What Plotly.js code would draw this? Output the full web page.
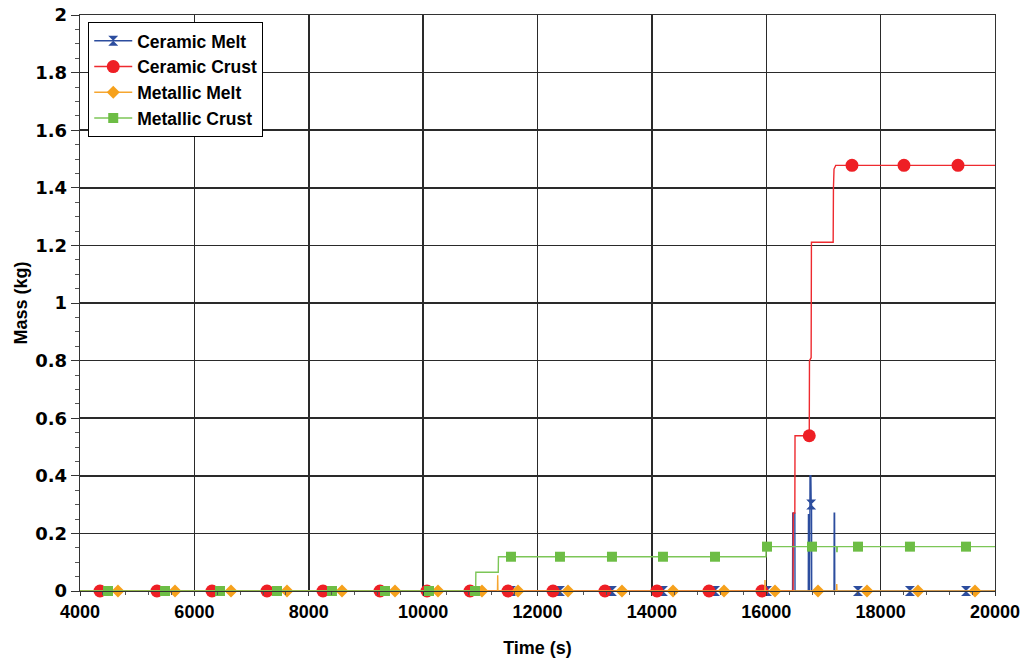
<!DOCTYPE html>
<html>
<head>
<meta charset="utf-8">
<script src="https://cdn.plot.ly/plotly-3.0.1.min.js"></script>
<style>
  html, body { margin: 0; padding: 0; background: #ffffff; }
  #chart { width: 1028px; height: 666px; }
</style>
</head>
<body>
<div id="chart"></div>
<script>
// Debris mass histories (kg) versus time (s)

// Ceramic Melt
const ceramicMeltT = [4000, 16460, 16463, 16500, 16503, 16735, 16738, 16745, 16748, 16760, 16765, 16780, 16786, 16792, 16795, 17185, 17188, 17195, 17198, 20000];
const ceramicMeltM = [0, 0, 0.27, 0.27, 0, 0, 0.265, 0.265, 0, 0, 0.40, 0.40, 0.30, 0.30, 0, 0, 0.27, 0.27, 0, 0];
const ceramicMeltMarkT = [4490, 5486, 6448, 7445, 8406, 9333, 10103, 10907, 11536, 12393, 13302, 14194, 15104, 16013, 16786, 17604, 18513, 19493];
const ceramicMeltMarkM = [0, 0, 0, 0, 0, 0, 0, 0, 0, 0, 0, 0, 0, 0, 0.30, 0, 0, 0];

// Ceramic Crust
const ceramicCrustT = [4000, 16470, 16473, 16500, 16503, 16752, 16756, 16785, 16790, 17170, 17175, 17185, 17215, 20000];
const ceramicCrustM = [0, 0, 0.271, 0.271, 0.539, 0.539, 0.80, 0.81, 1.211, 1.211, 1.40, 1.465, 1.478, 1.478];
const ceramicCrustMarkT = [4350, 5346, 6308, 7270, 8249, 9246, 10068, 10820, 11484, 12271, 13180, 14089, 14999, 15925, 16752, 17499, 18408, 19353];
const ceramicCrustMarkM = [0, 0, 0, 0, 0, 0, 0, 0, 0, 0, 0, 0, 0, 0, 0.539, 1.478, 1.478, 1.478];

// Metallic Melt
const metallicMeltT = [4000, 11300, 11304, 11308, 15975, 15978, 15982, 17230, 17233, 17237, 20000];
const metallicMeltM = [0, 0, 0.055, 0, 0, 0.038, 0, 0, 0.024, 0, 0];
const metallicMeltMarkT = [4664, 5661, 6640, 7620, 8581, 9508, 10260, 11029, 11659, 12533, 13477, 14369, 15261, 16153, 16905, 17762, 18653, 19650];
const metallicMeltMarkM = [0, 0, 0, 0, 0, 0, 0, 0, 0, 0, 0, 0, 0, 0, 0, 0, 0, 0];

// Metallic Crust
const metallicCrustT = [4000, 10919, 10922, 11314, 11317, 15995, 15998, 17230, 17233, 17240, 17243, 20000];
const metallicCrustM = [0, 0, 0.065, 0.065, 0.119, 0.119, 0.154, 0.154, 0.137, 0.137, 0.154, 0.154];
const metallicCrustMarkT = [4490, 5486, 6448, 7445, 8406, 9333, 10103, 10907, 11536, 12393, 13302, 14194, 15104, 16013, 16800, 17604, 18513, 19493];
const metallicCrustMarkM = [0, 0, 0, 0, 0, 0, 0, 0, 0.119, 0.119, 0.119, 0.119, 0.119, 0.154, 0.154, 0.154, 0.154, 0.154];

const seriesNames = ['Ceramic Melt', 'Ceramic Crust', 'Metallic Melt', 'Metallic Crust'];
const xTickVals = [4000, 6000, 8000, 10000, 12000, 14000, 16000, 18000, 20000];
const yTickVals = [0, 0.2, 0.4, 0.6, 0.8, 1, 1.2, 1.4, 1.6, 1.8, 2];

const FONT = 'Liberation Sans, Arial, Helvetica, sans-serif';
const WIDE = 'DejaVu Sans, Verdana, sans-serif';

// Interleave nulls so a marker trace keeps a line swatch in the legend
// without drawing any segment between markers.
function gapped(arr) {
  const out = [];
  arr.forEach((v, i) => { if (i) out.push(null); out.push(v); });
  return out;
}

const styles = [
  { color: '#2c4d9e', line: '#2c4d9e', symbol: 'hourglass', size: 10 },
  { color: '#ee1f25', line: '#ee2a2f', symbol: 'circle', size: 13 },
  { color: '#f6a11c', line: '#f6a630', symbol: 'diamond', size: 10 },
  { color: '#6dbd45', line: '#7cc657', symbol: 'square', size: 10 }
];

const lines = [
  [ceramicMeltT, ceramicMeltM, ceramicMeltMarkT, ceramicMeltMarkM],
  [ceramicCrustT, ceramicCrustM, ceramicCrustMarkT, ceramicCrustMarkM],
  [metallicMeltT, metallicMeltM, metallicMeltMarkT, metallicMeltMarkM],
  [metallicCrustT, metallicCrustM, metallicCrustMarkT, metallicCrustMarkM]
];

const traces = [];
lines.forEach((s, i) => {
  const st = styles[i];
  traces.push({
    x: s[0], y: s[1], type: 'scatter', mode: 'lines',
    line: { color: st.line, width: 1.4 },
    legendgroup: 'g' + i, showlegend: false, hoverinfo: 'skip', cliponaxis: false
  });
  traces.push({
    x: gapped(s[2]), y: gapped(s[3]), type: 'scatter', mode: 'lines+markers',
    name: seriesNames[i], legendgroup: 'g' + i, connectgaps: false,
    line: { color: st.line, width: 1.4 },
    marker: { color: st.color, symbol: st.symbol, size: st.size, line: { width: 0 } },
    cliponaxis: false
  });
});

const layout = {
  width: 1028, height: 666,
  margin: { l: 80, r: 33, t: 15, b: 75 },
  paper_bgcolor: '#ffffff', plot_bgcolor: '#ffffff',
  font: { family: FONT, size: 17, color: '#000000' },
  showlegend: true,
  legend: {
    x: 0.009, y: 0.988, xanchor: 'left', yanchor: 'top',
    bgcolor: '#ffffff', bordercolor: '#000000', borderwidth: 1,
    font: { family: FONT, size: 17.5, color: '#000000', weight: 'bold' },
    tracegroupgap: 0, itemwidth: 38
  },
  xaxis: {
    range: [4000, 20000], tickvals: xTickVals, ticktext: xTickVals.map(String),
    showgrid: true, gridcolor: '#2a2a2a', gridwidth: 1.5,
    zeroline: false, showline: true, linecolor: '#333333', linewidth: 1.3, mirror: true,
    ticks: 'outside', ticklen: 4, tickcolor: '#333333',
    minor: { dtick: 400, ticks: 'outside', ticklen: 3, tickcolor: '#555555', showgrid: false },
    tickfont: { family: FONT, size: 18, weight: 'bold' },
    title: { text: 'Time (s)', font: { family: FONT, size: 18, weight: 'bold' }, standoff: 20 }
  },
  yaxis: {
    range: [0, 2], tickvals: yTickVals, ticktext: yTickVals.map(String),
    showgrid: true, gridcolor: '#2a2a2a', gridwidth: 1.5,
    zeroline: false, showline: true, linecolor: '#333333', linewidth: 1.3, mirror: true,
    ticks: 'outside', ticklen: 8, tickcolor: '#333333',
    minor: { dtick: 0.05, ticks: 'outside', ticklen: 4, tickcolor: '#555555', showgrid: false },
    tickfont: { family: WIDE, size: 18, weight: 'bold' },
    title: { text: 'Mass (kg)', font: { family: FONT, size: 18, weight: 'bold' }, standoff: 3 }
  }
};

Plotly.newPlot('chart', traces, layout, { displayModeBar: false, staticPlot: true });
</script>
</body>
</html>
